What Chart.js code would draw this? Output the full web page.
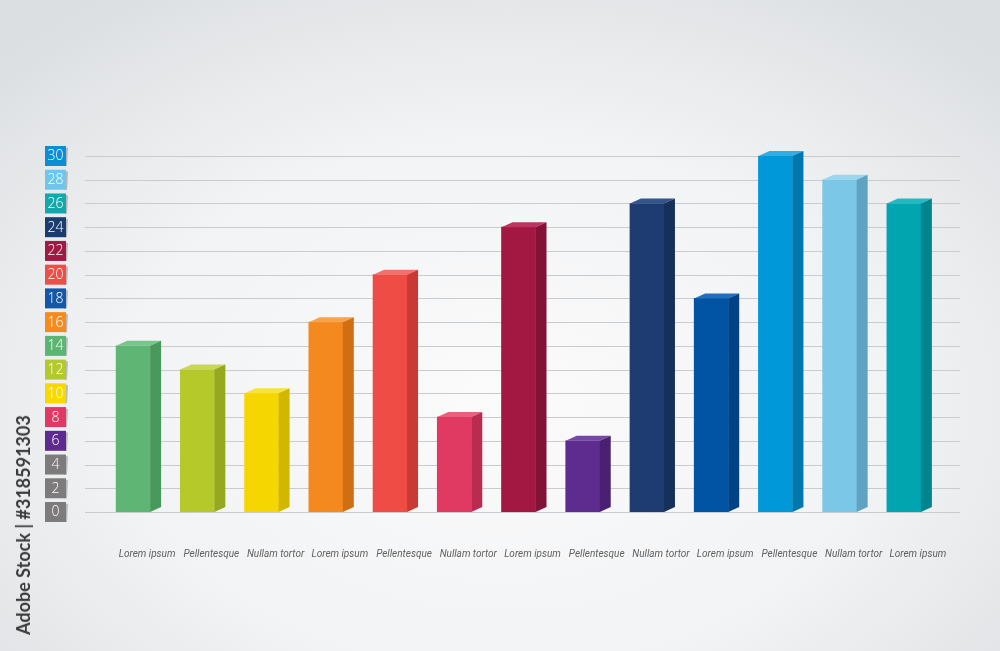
<!DOCTYPE html>
<html>
<head>
<meta charset="utf-8">
<script src="https://cdn.jsdelivr.net/npm/chart.js@4"></script>
<style>
  html, body { margin: 0; padding: 0; }
  body {
    width: 1000px; height: 651px; overflow: hidden; position: relative;
    background: radial-gradient(ellipse 70% 75% at 50% 62%, #fbfbfc 0%, #f2f3f4 55%, #dcdfe2 100%);
  }
  #wrap { position: absolute; left: 0; top: 0; width: 1000px; height: 651px; }
  .stock {
    position: absolute; left: 23px; top: 525px;
    transform: translate(-50%, -50%) rotate(-90deg);
    font-family: Lato, sans-serif; font-weight: 700; font-size: 18px; color: #3a3a3a;
    white-space: nowrap;
  }
</style>
</head>
<body>
<div id="wrap"><canvas id="chart"></canvas></div>
<div class="stock">Adobe Stock | #318591303</div>
<script>
// data
var categories = ['Lorem ipsum', 'Pellentesque', 'Nullam tortor', 'Lorem ipsum', 'Pellentesque', 'Nullam tortor', 'Lorem ipsum', 'Pellentesque', 'Nullam tortor', 'Lorem ipsum', 'Pellentesque', 'Nullam tortor', 'Lorem ipsum'];
var values = [14, 12, 10, 16, 20, 8, 24, 6, 26, 18, 30, 28, 26];
var frontColors = ['#5fb574', '#b5c92a', '#f5d600', '#f48a1f', '#ef4c45', '#e03a63', '#a31842', '#5e2b8f', '#1e3c72', '#0054a3', '#0098d8', '#7ac7e8', '#00a5b0'];
var sideColors  = ['#4a995c', '#96a81e', '#d2b700', '#d06e12', '#c93a35', '#b92c50', '#821236', '#4a2073', '#162f5b', '#004286', '#0078ad', '#5fa3c1', '#00858e'];
var topColors   = ['#79c68c', '#c8d854', '#f9e23c', '#f8a24c', '#f4706a', '#e9607f', '#bb3560', '#7747a6', '#34548c', '#1f6fbb', '#2eaee4', '#9bd6ef', '#21bac3'];
var tickValues = [0, 2, 4, 6, 8, 10, 12, 14, 16, 18, 20, 22, 24, 26, 28, 30];
var tickColors = ['#7e7b7c', '#7e7b7c', '#7e7b7c', '#5e2a90', '#e03a64', '#f7d900', '#b3c92c', '#5cb572', '#f58b1f', '#1457a8', '#ef4c4a', '#a01a44', '#1b3c6e', '#14a8ad', '#6ec6ea', '#0a8fd6'];

// grid lines + colored tick boxes
var gridPlugin = {
    id: 'gridBoxes',
    beforeDatasetsDraw: function(chart) {
        var ctx = chart.ctx;
        var y = chart.scales.y;
        ctx.save();
        ctx.strokeStyle = '#c9cbcd';
        ctx.lineWidth = 1;
        tickValues.forEach(function(v) {
            var py = Math.round(y.getPixelForValue(v)) + 0.5;
            ctx.beginPath();
            ctx.moveTo(85, py);
            ctx.lineTo(960, py);
            ctx.stroke();
        });
        tickValues.forEach(function(v, i) {
            var py = y.getPixelForValue(v);
            // little shadow tab
            ctx.fillStyle = 'rgba(90,90,90,0.35)';
            ctx.beginPath();
            ctx.moveTo(64, py - 9);
            ctx.lineTo(68, py - 8);
            ctx.lineTo(67, py + 10);
            ctx.lineTo(64, py + 10);
            ctx.closePath();
            ctx.fill();
            ctx.fillStyle = tickColors[i];
            ctx.fillRect(45, py - 10, 21, 20);
            ctx.fillStyle = '#ffffff';
            ctx.font = '300 14px "Open Sans", sans-serif';
            ctx.textAlign = 'center';
            ctx.textBaseline = 'middle';
            ctx.fillText(String(v), 55.5, py + 0.5);
        });
        ctx.restore();
    }
};

// 3D top and side faces for each bar
var depthPlugin = {
    id: 'depth',
    afterDatasetsDraw: function(chart) {
        var ctx = chart.ctx;
        var meta = chart.getDatasetMeta(0);
        var d = 11, h = 5;
        ctx.save();
        meta.data.forEach(function(bar, i) {
            var l = bar.x - bar.width / 2;
            var r = bar.x + bar.width / 2;
            ctx.fillStyle = topColors[i];
            ctx.beginPath();
            ctx.moveTo(l, bar.y);
            ctx.lineTo(l + d, bar.y - h);
            ctx.lineTo(r + d, bar.y - h);
            ctx.lineTo(r, bar.y);
            ctx.closePath();
            ctx.fill();
            ctx.fillStyle = sideColors[i];
            ctx.beginPath();
            ctx.moveTo(r, bar.y);
            ctx.lineTo(r + d, bar.y - h);
            ctx.lineTo(r + d, bar.base - h);
            ctx.lineTo(r, bar.base);
            ctx.closePath();
            ctx.fill();
        });
        ctx.restore();
    }
};

var ctx = document.getElementById('chart').getContext('2d');
var myChart = new Chart(ctx, {
    type: 'bar',
    data: {
        labels: categories,
        datasets: [{
            data: values,
            backgroundColor: frontColors,
            borderWidth: 0,
            barThickness: 34
        }]
    },
    options: {
        responsive: true,
        maintainAspectRatio: false,
        animation: false,
        events: [],
        layout: {
            padding: { left: 101, right: 64, top: 156, bottom: 55 }
        },
        plugins: {
            legend: { display: false },
            tooltip: { enabled: false }
        },
        scales: {
            y: {
                display: false,
                min: 0,
                max: 30
            },
            x: {
                grid: { display: false, drawTicks: false },
                border: { display: false },
                ticks: {
                    color: '#606060',
                    padding: 36,
                    labelOffset: 14,
                    maxRotation: 0,
                    autoSkip: false,
                    font: { family: 'Roboto', style: 'italic', size: 10 }
                }
            }
        }
    },
    plugins: [gridPlugin, depthPlugin]
});
</script>
</body>
</html>
